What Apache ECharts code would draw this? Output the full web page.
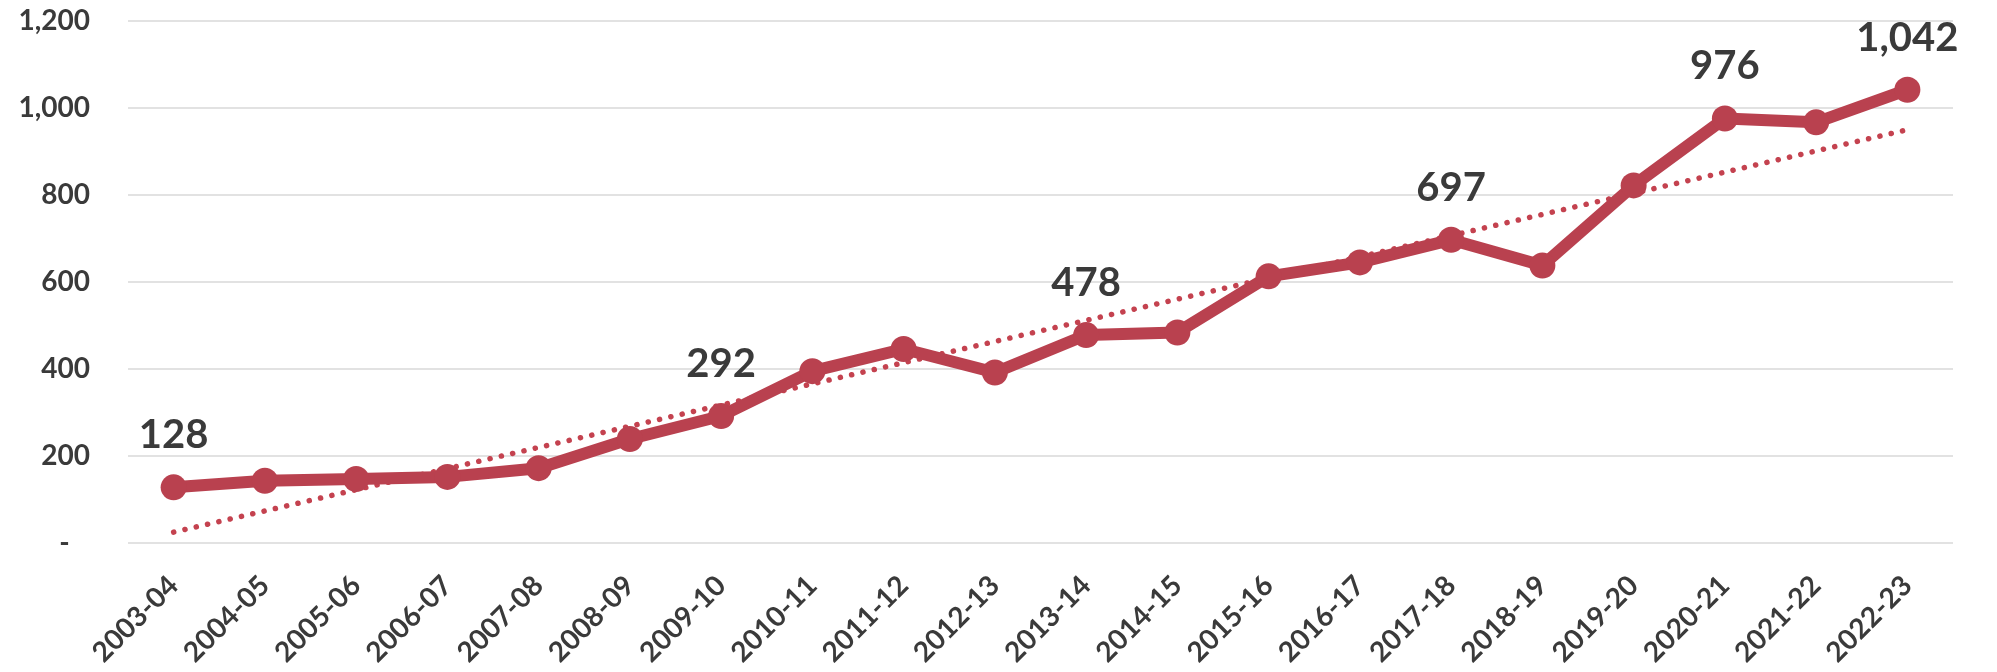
<!DOCTYPE html>
<html>
<head>
<meta charset="utf-8">
<script src="https://cdn.jsdelivr.net/npm/echarts@6/dist/echarts.min.js"></script>
<style>
  html, body { margin: 0; padding: 0; background: #fff; }
  #chart { width: 1997px; height: 672px; }
</style>
</head>
<body>
<div id="chart"></div>
<script>
// Year categories
const years = [
  "2003-04", "2004-05", "2005-06", "2006-07", "2007-08",
  "2008-09", "2009-10", "2010-11", "2011-12", "2012-13",
  "2013-14", "2014-15", "2015-16", "2016-17", "2017-18",
  "2018-19", "2019-20", "2020-21", "2021-22", "2022-23"
];

// Values (labelled ones are exact)
const values = [
  128, 143, 147, 152, 172,
  239, 292, 395, 446, 392,
  478, 484, 613, 645, 697,
  638, 822, 976, 967, 1042
];

// Points that carry a value label
const labelledYears = ["2003-04", "2009-10", "2013-14", "2017-18", "2020-21", "2022-23"];

// Linear trend line, read at its two ends
const trendStart = 25;
const trendEnd = 950;

// Y axis ticks
const yMin = 0;
const yMax = 1200;
const yStep = 200;

document.addEventListener("DOMContentLoaded", function () {
  initChart();
});

function initChart() {
  let chartDom = document.getElementById("chart");
  let myChart = echarts.init(chartDom);

  const textColor = "#3a3a3a";
  const lineColor = "#b9414f";
  const fontFamily = "Lato, 'Open Sans', sans-serif";

  let lineData = values.map(function (v, i) {
    let item = { value: v };
    if (labelledYears.indexOf(years[i]) >= 0) {
      item.label = { show: true };
    }
    return item;
  });

  let trendData = years.map(function (y, i) {
    if (i === 0) return trendStart;
    if (i === years.length - 1) return trendEnd;
    return "-";
  });

  let option = {
    backgroundColor: "#fff",
    animation: false,
    grid: {
      left: 128,
      right: 44,
      top: 21,
      bottom: 129,
      containLabel: false,
      outerBoundsMode: "none",
    },
    xAxis: {
      type: "category",
      data: years,
      boundaryGap: true,
      axisLine: { show: false },
      axisTick: { show: false },
      axisLabel: {
        interval: 0,
        rotate: 45,
        margin: 38,
        color: textColor,
        fontSize: 28,
        fontWeight: "bold",
        fontFamily: fontFamily,
      },
    },
    yAxis: {
      type: "value",
      min: yMin,
      max: yMax,
      interval: yStep,
      axisLine: { show: false },
      axisTick: { show: false },
      splitLine: {
        lineStyle: { color: "#d9d9d9", width: 1.5 },
      },
      axisLabel: {
        margin: 38,
        color: textColor,
        fontSize: 28,
        fontWeight: "bold",
        fontFamily: fontFamily,
        formatter: function (v) {
          if (v === 0) return "-   ";
          return v.toLocaleString("en-US");
        },
      },
    },
    series: [
      {
        type: "line",
        data: trendData,
        connectNulls: true,
        symbol: "none",
        silent: true,
        z: 1,
        lineStyle: {
          color: "#c4424f",
          width: 5.5,
          type: [0.1, 11.5],
          cap: "round",
        },
      },
      {
        type: "line",
        data: lineData,
        symbol: "circle",
        symbolSize: 26,
        z: 2,
        itemStyle: { color: lineColor },
        lineStyle: { color: lineColor, width: 12 },
        label: {
          show: false,
          position: "top",
          distance: 19,
          color: textColor,
          fontSize: 40,
          fontWeight: "bold",
          fontFamily: fontFamily,
          formatter: function (p) {
            return p.value.toLocaleString("en-US");
          },
        },
      },
    ],
  };

  myChart.setOption(option);

  window.addEventListener("resize", function () {
    myChart.resize();
  });
}
</script>
</body>
</html>
